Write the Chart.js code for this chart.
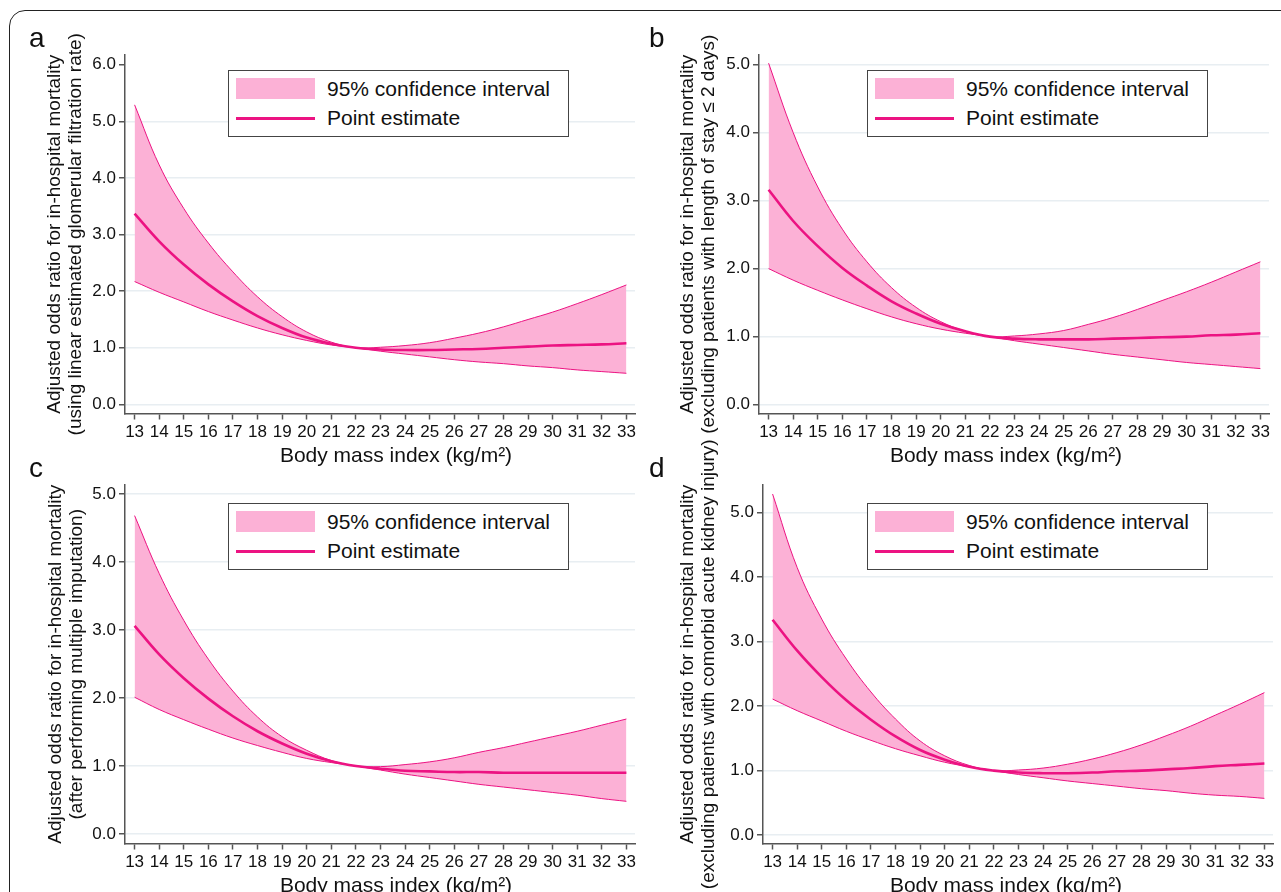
<!DOCTYPE html>
<html lang="en">
<head>
<meta charset="UTF-8">
<title>BMI and in-hospital mortality</title>
<script src="https://cdn.jsdelivr.net/npm/chart.js"></script>
<style>
    body {
        margin: 0;
        width: 1281px;
        height: 892px;
        overflow: hidden;
        background: #fff;
        position: relative;
        font-family: "Liberation Sans", Arial, Helvetica, sans-serif;
    }
    .frame {
        position: absolute;
        left: 9px;
        top: 10px;
        width: 1400px;
        height: 1000px;
        border: 1.5px solid #222;
        border-radius: 16px;
    }
    .panel {
        position: absolute;
        width: 641px;
        height: 470px;
    }
    .panel canvas {
        position: absolute;
        left: 0;
        top: 0;
    }
    .legend {
        position: absolute;
        width: 341px;
        height: 67px;
        box-sizing: border-box;
        border: 1.5px solid #444;
        background: #fff;
        font-size: 21px;
        color: #111;
    }
    .legend .swatch {
        position: absolute;
        left: 7px;
        top: 7px;
        width: 79px;
        height: 21px;
    }
    .legend .sample {
        position: absolute;
        left: 7px;
        top: 46px;
        width: 79px;
        height: 2.5px;
    }
    .legend .txt {
        position: absolute;
        left: 98px;
        line-height: 24px;
        white-space: nowrap;
    }
</style>
</head>
<body>
<div class="frame"></div>

<script>
// body mass index (x categories)
const bmi = [13, 14, 15, 16, 17, 18, 19, 20, 21, 22, 23, 24, 25, 26, 27, 28, 29, 30, 31, 32, 33];

// a: using linear estimated GFR
const aEst  = [3.37, 2.88, 2.47, 2.12, 1.82, 1.56, 1.35, 1.18, 1.07, 1.00, 0.97, 0.96, 0.96, 0.97, 0.98, 1.00, 1.02, 1.04, 1.05, 1.06, 1.08];
const aLow  = [2.17, 1.98, 1.81, 1.64, 1.49, 1.35, 1.23, 1.13, 1.05, 1.00, 0.94, 0.89, 0.84, 0.79, 0.75, 0.72, 0.68, 0.65, 0.61, 0.58, 0.55];
const aHigh = [5.29, 4.23, 3.46, 2.85, 2.34, 1.90, 1.55, 1.28, 1.10, 1.00, 1.01, 1.04, 1.09, 1.17, 1.26, 1.37, 1.50, 1.63, 1.78, 1.94, 2.11];

// b: excluding length of stay <= 2 days
const bEst  = [3.16, 2.70, 2.33, 2.01, 1.75, 1.52, 1.34, 1.19, 1.08, 1.00, 0.97, 0.96, 0.96, 0.96, 0.97, 0.98, 0.99, 1.00, 1.02, 1.03, 1.05];
const bLow  = [2.00, 1.83, 1.68, 1.54, 1.41, 1.29, 1.19, 1.11, 1.05, 1.00, 0.94, 0.89, 0.84, 0.79, 0.74, 0.70, 0.66, 0.62, 0.59, 0.56, 0.53];
const bHigh = [5.02, 4.00, 3.20, 2.58, 2.10, 1.72, 1.43, 1.22, 1.08, 1.00, 1.01, 1.04, 1.09, 1.18, 1.28, 1.40, 1.53, 1.66, 1.80, 1.95, 2.10];

// c: multiple imputation
const cEst  = [3.06, 2.64, 2.29, 1.99, 1.73, 1.51, 1.33, 1.18, 1.07, 1.00, 0.96, 0.93, 0.92, 0.91, 0.91, 0.90, 0.90, 0.90, 0.90, 0.90, 0.90];
const cLow  = [2.01, 1.83, 1.68, 1.54, 1.41, 1.30, 1.20, 1.11, 1.05, 1.00, 0.94, 0.88, 0.83, 0.78, 0.73, 0.69, 0.65, 0.61, 0.57, 0.52, 0.48];
const cHigh = [4.68, 3.83, 3.14, 2.57, 2.10, 1.72, 1.43, 1.23, 1.08, 1.00, 0.99, 1.02, 1.06, 1.12, 1.20, 1.27, 1.35, 1.43, 1.51, 1.60, 1.69];

// d: excluding comorbid acute kidney injury
const dEst  = [3.34, 2.86, 2.45, 2.09, 1.79, 1.53, 1.32, 1.17, 1.06, 1.00, 0.97, 0.96, 0.96, 0.97, 0.99, 1.00, 1.02, 1.04, 1.07, 1.09, 1.11];
const dLow  = [2.11, 1.93, 1.77, 1.61, 1.47, 1.34, 1.23, 1.13, 1.06, 1.00, 0.94, 0.89, 0.84, 0.80, 0.76, 0.72, 0.69, 0.65, 0.62, 0.60, 0.57];
const dHigh = [5.29, 4.15, 3.35, 2.73, 2.22, 1.80, 1.46, 1.23, 1.08, 1.00, 1.01, 1.04, 1.10, 1.18, 1.28, 1.40, 1.54, 1.69, 1.86, 2.03, 2.21];

const ticksA = [0, 1, 2, 3, 4, 5, 6];
const ticksBCD = [0, 1, 2, 3, 4, 5];

const xTitle = 'Body mass index (kg/m²)';
const yTitleMain = 'Adjusted odds ratio for in-hospital mortality';
const ciLabel = '95% confidence interval';
const estLabel = 'Point estimate';

const lineColor = '#ec1382';
const bandColor = '#fcb1d6';
const gridColor = '#e8eef2';
const axisColor = '#555';
const fontFamily = '"Liberation Sans", Arial, Helvetica, sans-serif';

const panels = [
    { letter: 'a', left: 0, top: 0, est: aEst, low: aLow, high: aHigh, ticks: ticksA, noGrid: [6],
      yMin: -0.16, yMax: 6.17, sub: '(using linear estimated glomerular filtration rate)',
      axisLeft: 125, rightPad: 6, titlePad: 44, legLeft: 228, legTop: 70, xTitleX: 396, letterX: 29 },
    { letter: 'b', left: 640, top: 0, est: bEst, low: bLow, high: bHigh, ticks: ticksBCD, noGrid: [],
      yMin: -0.13, yMax: 5.14, sub: '(excluding patients with length of stay ≤ 2 days)',
      axisLeft: 119, rightPad: 12, titlePad: 37, legLeft: 227, legTop: 70, xTitleX: 366, letterX: 9 },
    { letter: 'c', left: 0, top: 430, est: cEst, low: cLow, high: cHigh, ticks: ticksBCD, noGrid: [],
      yMin: -0.14, yMax: 5.13, sub: '(after performing multiple imputation)',
      axisLeft: 125, rightPad: 6, titlePad: 45, legLeft: 228, legTop: 73, xTitleX: 396, letterX: 29 },
    { letter: 'd', left: 640, top: 430, est: dEst, low: dLow, high: dHigh, ticks: ticksBCD, noGrid: [],
      yMin: -0.13, yMax: 5.43, sub: '(excluding patients with comorbid acute kidney injury)',
      axisLeft: 123, rightPad: 8, titlePad: 37, legLeft: 227, legTop: 73, xTitleX: 366, letterX: 9 }
];

// panel letter + x axis title
const panelText = {
    id: 'panelText',
    afterDraw(chart, args, opts) {
        const ctx = chart.ctx;
        ctx.save();
        ctx.fillStyle = '#111';
        ctx.textBaseline = 'alphabetic';
        ctx.font = '28px ' + fontFamily;
        ctx.textAlign = 'left';
        ctx.fillText(opts.letter, opts.letterX, 47);
        ctx.font = '21px ' + fontFamily;
        ctx.textAlign = 'center';
        ctx.fillText(xTitle, opts.xTitleX, 462);
        ctx.restore();
    }
};

function pts(ys) {
    return bmi.map((x, i) => ({ x: x, y: ys[i] }));
}

function makeLegend(wrap, p, chart) {
    const ds = chart.data.datasets;
    const leg = document.createElement('div');
    leg.className = 'legend';
    leg.style.left = p.legLeft + 'px';
    leg.style.top = p.legTop + 'px';
    leg.innerHTML =
        '<div class="swatch" style="background:' + ds[2].backgroundColor + '"></div>' +
        '<div class="txt" style="top:6px">' + ds[2].label + '</div>' +
        '<div class="sample" style="background:' + ds[0].borderColor + '"></div>' +
        '<div class="txt" style="top:35px">' + ds[0].label + '</div>';
    wrap.appendChild(leg);
}

panels.forEach(p => {
    const wrap = document.createElement('div');
    wrap.className = 'panel';
    wrap.style.left = p.left + 'px';
    wrap.style.top = p.top + 'px';
    const cv = document.createElement('canvas');
    cv.width = 641;
    cv.height = 470;
    wrap.appendChild(cv);
    document.body.appendChild(wrap);

    const chart = new Chart(cv.getContext('2d'), {
        type: 'line',
        data: {
            datasets: [
                { label: estLabel, data: pts(p.est), borderColor: lineColor, borderWidth: 2.6,
                  pointRadius: 0, fill: false, tension: 0.4 },
                { label: 'lower', data: pts(p.low), borderColor: lineColor, borderWidth: 1,
                  pointRadius: 0, fill: false, tension: 0.4 },
                { label: ciLabel, data: pts(p.high), borderColor: lineColor, borderWidth: 1,
                  backgroundColor: bandColor, pointRadius: 0, fill: 1, tension: 0.4 }
            ]
        },
        options: {
            responsive: false,
            animation: false,
            events: [],
            layout: { padding: { top: 55, left: 0, right: p.rightPad, bottom: 0 } },
            plugins: {
                legend: { display: false },
                tooltip: { enabled: false },
                panelText: { letter: p.letter, letterX: p.letterX, xTitleX: p.xTitleX }
            },
            scales: {
                x: {
                    type: 'linear',
                    min: 12.61,
                    max: 33.35,
                    afterBuildTicks: s => { s.ticks = bmi.map(v => ({ value: v })); },
                    afterFit: s => { s.height = 470 - 413.5; },
                    grid: { drawOnChartArea: false, tickLength: 6, tickColor: axisColor, tickWidth: 1.5 },
                    border: { color: axisColor, width: 1.5 },
                    ticks: { padding: 3, color: '#111', font: { family: fontFamily, size: 17 }, maxRotation: 0,
                             autoSkip: false, callback: v => String(v) }
                },
                y: {
                    min: p.yMin,
                    max: p.yMax,
                    afterBuildTicks: s => { s.ticks = p.ticks.map(v => ({ value: v })); },
                    afterFit: s => { s.width = p.axisLeft; },
                    grid: {
                        color: c => (c.tick && p.noGrid.includes(c.tick.value)) ? 'rgba(0,0,0,0)' : gridColor,
                        lineWidth: 1.5, tickLength: 6, tickColor: axisColor, tickWidth: 1.5
                    },
                    border: { color: axisColor, width: 1.5 },
                    ticks: { padding: 3, color: '#111', font: { family: fontFamily, size: 17 },
                             callback: v => Number(v).toFixed(1) },
                    title: {
                        display: true,
                        text: [yTitleMain, p.sub],
                        color: '#111',
                        font: { family: fontFamily, size: 19, lineHeight: 1.1 },
                        padding: { top: p.titlePad, bottom: 0 }
                    }
                }
            }
        },
        plugins: [panelText]
    });

    makeLegend(wrap, p, chart);
});
</script>
</body>
</html>
